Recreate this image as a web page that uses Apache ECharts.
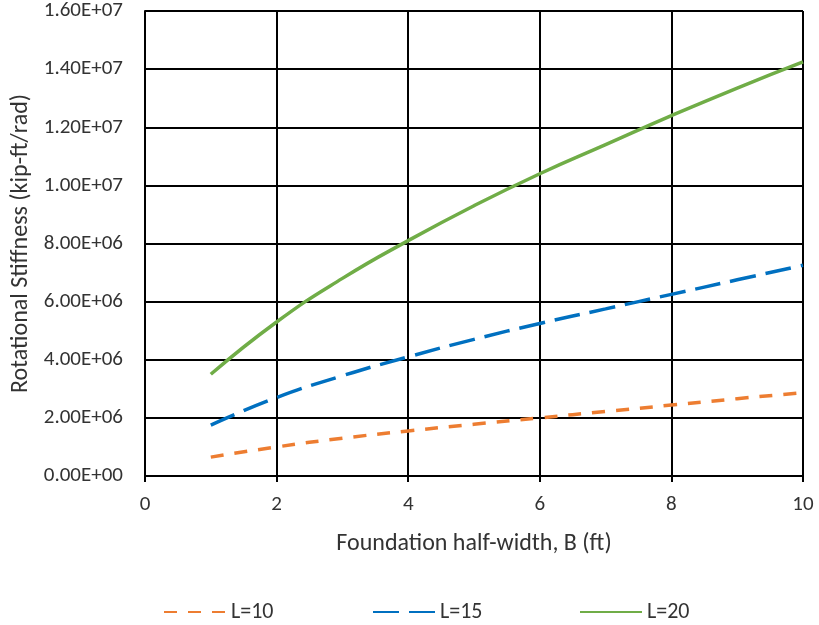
<!DOCTYPE html>
<html>
<head>
<meta charset="utf-8">
<script src="https://cdn.jsdelivr.net/npm/echarts@6/dist/echarts.min.js"></script>
<style>html,body{margin:0;padding:0;background:#fff}#c{width:819px;height:625px}</style>
</head>
<body>
<div id="c"></div>
<script>
const B = [1, 2, 3, 4, 5, 6, 7, 8, 9, 10];
const L10 = [0.65e6, 1.0e6, 1.3e6, 1.55e6, 1.78e6, 2.0e6, 2.22e6, 2.44e6, 2.66e6, 2.87e6];
const L15 = [1.75e6, 2.7e6, 3.45e6, 4.1e6, 4.7e6, 5.25e6, 5.75e6, 6.25e6, 6.75e6, 7.25e6];
const L20 = [3.5e6, 5.3e6, 6.8e6, 8.1e6, 9.3e6, 10.4e6, 11.4e6, 12.4e6, 13.35e6, 14.25e6];
const seriesNames = ['L=10', 'L=15', 'L=20'];
const xTitle = 'Foundation half-width, B (ft)';
const yTitle = 'Rotational Stiffness (kip-ft/rad)';

const FONT = 'Carlito, Lato, "Open Sans", sans-serif';
const chart = echarts.init(document.getElementById('c'), null, {renderer: 'canvas'});
function pairs(v) { return B.map((b, i) => [b, v[i]]); }
function legend(name, left) {
  return {
    data: [name], left: left, top: 601, padding: 0, itemWidth: 62, itemHeight: 22, itemGap: 6,
    itemStyle: {color: 'rgba(0,0,0,0)', borderWidth: 0, opacity: 0},
    textStyle: {fontFamily: FONT, fontSize: 22, color: '#333'}
  };
}
chart.setOption({
  animation: false,
  grid: {left: 145, right: 16, top: 11, bottom: 149, containLabel: false},
  legend: [legend(seriesNames[0], 163), legend(seriesNames[1], 372), legend(seriesNames[2], 579)],
  xAxis: {
    type: 'value', min: 0, max: 10, interval: 2,
    name: xTitle, nameLocation: 'middle', nameGap: 56,
    nameTextStyle: {fontFamily: FONT, fontSize: 24, color: '#333'},
    axisLine: {show: true, lineStyle: {color: '#000', width: 2}},
    axisTick: {show: true, length: 6, lineStyle: {color: '#000', width: 2}},
    axisLabel: {fontFamily: FONT, fontSize: 21, color: '#333', margin: 18},
    splitLine: {show: true, lineStyle: {color: '#000', width: 2}}
  },
  yAxis: {
    type: 'value', min: 0, max: 1.6e7, interval: 2e6,
    name: yTitle, nameLocation: 'middle', nameGap: 108,
    nameTextStyle: {fontFamily: FONT, fontSize: 24, color: '#333'},
    axisLine: {show: true, lineStyle: {color: '#000', width: 2}},
    axisTick: {show: false},
    axisLabel: {fontFamily: FONT, fontSize: 21, color: '#333', margin: 22,
      formatter: v => {
        if (v === 0) return '0.00E+00';
        const e = Math.floor(Math.log10(v));
        const m = v / Math.pow(10, e);
        return m.toFixed(2) + 'E+' + String(e).padStart(2, '0');
      }},
    splitLine: {show: true, lineStyle: {color: '#000', width: 2}}
  },
  series: [
    {name: seriesNames[0], type: 'line', data: pairs(L10), smooth: true, symbol: 'none',
      itemStyle: {color: '#ED7D31'}, lineStyle: {color: '#ED7D31', width: 3.5, type: [13, 11]}},
    {name: seriesNames[1], type: 'line', data: pairs(L15), smooth: true, symbol: 'none',
      itemStyle: {color: '#0070C0'}, lineStyle: {color: '#0070C0', width: 3.5, type: [26, 10]}},
    {name: seriesNames[2], type: 'line', data: pairs(L20), smooth: true, symbol: 'none',
      itemStyle: {color: '#70AD47'}, lineStyle: {color: '#70AD47', width: 3.5}}
  ]
});
</script>
</body>
</html>
